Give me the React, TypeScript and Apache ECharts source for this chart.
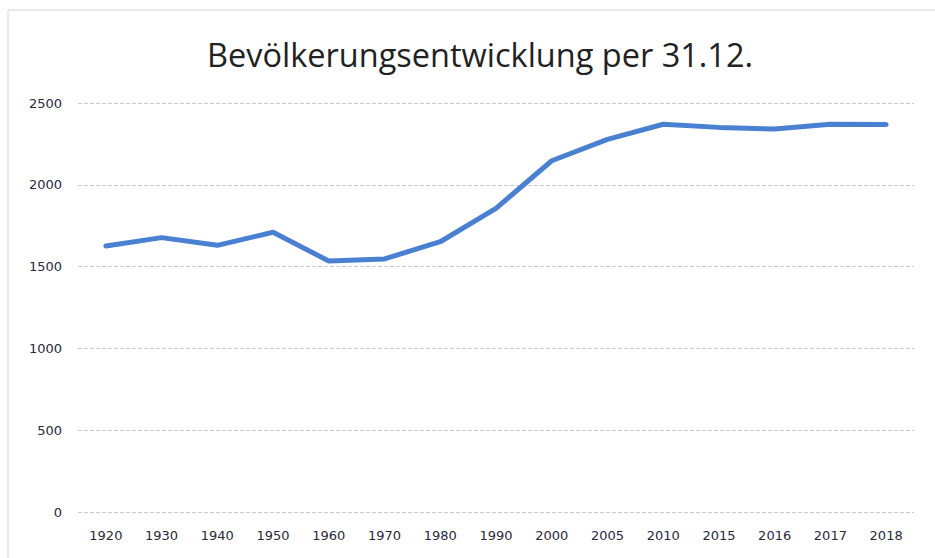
import React, { useEffect, useRef } from "react";
import * as echarts from "echarts";

const title = "Bevölkerungsentwicklung per 31.12.";
const years = ["1920", "1930", "1940", "1950", "1960", "1970", "1980", "1990", "2000", "2005", "2010", "2015", "2016", "2017", "2018"];
const population = [1626, 1677, 1630, 1710, 1534, 1547, 1652, 1856, 2147, 2278, 2370, 2351, 2341, 2370, 2368];
const yMin = 0;
const yMax = 2500;
const yStep = 500;

export default function App() {
  const ref = useRef<HTMLDivElement>(null);
  useEffect(() => {
    if (!ref.current) return;
    const chart = echarts.init(ref.current, null, { renderer: "svg" });
    chart.setOption({
      animation: false,
      backgroundColor: "#ffffff",
      title: {
        text: title,
        left: 202,
        top: 33,
        textStyle: { fontFamily: "Open Sans", fontSize: 32.5, fontWeight: "normal", color: "#222222" },
      },
      graphic: [
        {
          type: "rect",
          shape: { x: 8, y: 10, width: 940, height: 560 },
          style: { fill: "none", stroke: "#d8d0dc", lineWidth: 1 },
          silent: true,
        },
      ],
      grid: { left: 78, right: 21, top: 103, bottom: 46, containLabel: false },
      xAxis: {
        type: "category",
        data: years,
        boundaryGap: true,
        axisLine: { show: false },
        axisTick: { show: false },
        axisLabel: { color: "#2a2a3a", fontFamily: "DejaVu Sans", fontSize: 13, margin: 17 },
      },
      yAxis: {
        type: "value",
        min: yMin,
        max: yMax,
        interval: yStep,
        axisLine: { show: false },
        axisTick: { show: false },
        axisLabel: {
          color: "#2a2a3a",
          fontFamily: "DejaVu Sans",
          fontSize: 13,
          margin: 16,
          formatter: (v: number) => String(v),
        },
        splitLine: { lineStyle: { color: "#c8c8d2", type: "dashed", width: 1 } },
      },
      series: [
        {
          type: "line",
          data: population,
          symbol: "none",
          smooth: false,
          lineStyle: { color: "#4a80d2", width: 5, cap: "round", join: "round" },
        },
      ],
    });
    return () => chart.dispose();
  }, []);
  return <div ref={ref} style={{ position: "fixed", left: 0, top: 0, width: 935, height: 558 }} />;
}
